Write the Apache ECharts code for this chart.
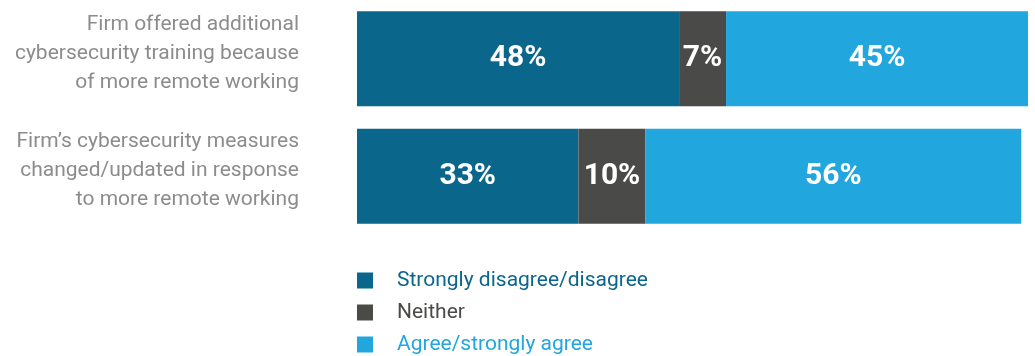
<!DOCTYPE html>
<html>
<head>
<meta charset="utf-8">
<script src="https://cdn.jsdelivr.net/npm/echarts@6/dist/echarts.min.js"></script>
<style>
  html, body { margin: 0; padding: 0; background: #ffffff; }
  #chart { width: 1035px; height: 356px; }
</style>
</head>
<body>
<div id="chart"></div>
<script>
// Survey statements (top to bottom)
const categories = [
  'Firm offered additional\ncybersecurity training because\nof more remote working',
  'Firm\u2019s cybersecurity measures\nchanged/updated in response\nto more remote working'
];

// Response shares, percent
const seriesNames = ['Strongly disagree/disagree', 'Neither', 'Agree/strongly agree'];
const disagreeValues = [48, 33];
const neitherValues = [7, 10];
const agreeValues = [45, 56];

const colors = ['#0b668c', '#4a4a49', '#22a6de'];

const chart = echarts.init(document.getElementById('chart'));

function barSeries(name, values, color) {
  return {
    name: name,
    type: 'bar',
    stack: 'total',
    data: values,
    barWidth: 95,
    itemStyle: { color: color },
    label: {
      show: true,
      position: 'inside',
      formatter: '{c}%',
      color: '#ffffff',
      fontFamily: 'Roboto',
      fontWeight: 'bold',
      fontSize: 30
    },
    emphasis: { disabled: true }
  };
}

chart.setOption({
  animation: false,
  grid: { left: 357, right: 7, top: -2, height: 237, containLabel: false },
  xAxis: {
    type: 'value',
    min: 0,
    max: 100,
    show: false
  },
  yAxis: {
    type: 'category',
    data: categories,
    inverse: true,
    axisLine: { show: false },
    axisTick: { show: false },
    axisLabel: {
      margin: 58,
      align: 'right',
      color: '#8c8c8c',
      fontFamily: 'Roboto',
      fontSize: 21,
      lineHeight: 29,
      // a short empty line below lifts the text block slightly above the bar centre
      formatter: v => v.split('\n').map(l => '{t|' + l + '}').join('\n') + '\n{gap| }',
      rich: {
        t: { fontFamily: 'Roboto', fontSize: 21, lineHeight: 29, color: '#8c8c8c', align: 'right' },
        gap: { fontSize: 1, lineHeight: 11 }
      }
    }
  },
  legend: {
    orient: 'vertical',
    left: 357,
    top: 270,
    height: 100,
    padding: 0,
    icon: 'rect',
    itemWidth: 16,
    itemHeight: 16,
    itemGap: 11,
    selectedMode: false,
    data: seriesNames.map((n, i) => ({
      name: n,
      textStyle: { color: colors[i] }
    })),
    textStyle: {
      fontFamily: 'Roboto',
      fontSize: 21,
      padding: [0, 0, 0, 19]
    }
  },
  series: [
    barSeries(seriesNames[0], disagreeValues, colors[0]),
    barSeries(seriesNames[1], neitherValues, colors[1]),
    barSeries(seriesNames[2], agreeValues, colors[2])
  ]
});
</script>
</body>
</html>
